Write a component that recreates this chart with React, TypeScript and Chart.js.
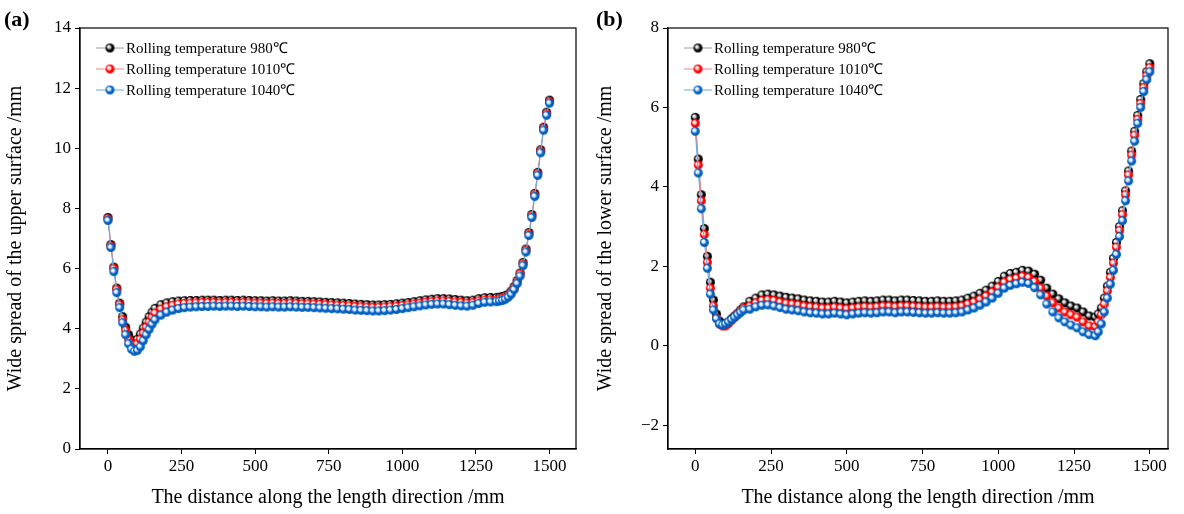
import React, { useEffect, useRef } from "react";
import { Chart, registerables } from "chart.js";
Chart.register(...registerables);

const xLeft = [0, 10, 20, 30, 40, 50, 60, 70, 80, 90, 100, 110, 120, 130, 140, 150, 160];
const xMid = [180, 200, 220, 240, 260, 280, 300, 320, 340, 360, 380, 400, 420, 440, 460, 480, 500, 520, 540, 560, 580, 600, 620, 640, 660, 680, 700, 720, 740, 760, 780, 800, 820, 840, 860, 880, 900, 920, 940, 960, 980, 1000, 1020, 1040, 1060, 1080, 1100, 1120, 1140, 1160, 1180, 1200, 1220, 1240, 1260, 1280, 1300, 1320];
const xRight = [1330, 1340, 1350, 1360, 1370, 1380, 1390, 1400, 1410, 1420, 1430, 1440, 1450, 1460, 1470, 1480, 1490, 1500];
const distance = [...xLeft, ...xMid, ...xRight];

const seriesNames = ["Rolling temperature 980\u2103", "Rolling temperature 1010\u2103", "Rolling temperature 1040\u2103"];

const upper980 = [7.7,6.8,6.05,5.35,4.85,4.4,4.05,3.8,3.62,3.58,3.65,3.82,4.02,4.22,4.4,4.55,4.68,
4.8,4.86,4.9,4.92,4.93,4.94,4.94,4.95,4.95,4.95,4.94,4.95,4.95,4.94,4.95,4.94,4.93,4.93,4.92,4.93,4.92,4.92,4.93,4.92,4.91,4.91,4.9,4.89,4.88,4.87,4.86,4.85,4.84,4.82,4.81,4.8,4.79,4.79,4.8,4.81,4.83,4.85,4.87,4.9,4.93,4.96,4.98,5.0,5.0,4.99,4.97,4.95,4.93,4.95,5.0,5.03,5.04,5.04,
5.05,5.07,5.1,5.15,5.25,5.4,5.6,5.85,6.2,6.65,7.2,7.8,8.5,9.2,9.95,10.7,11.2,11.6];
const upper1010 = [7.65,6.75,6.0,5.3,4.8,4.3,3.95,3.65,3.5,3.45,3.5,3.65,3.85,4.05,4.22,4.38,4.52,
4.65,4.73,4.78,4.82,4.84,4.85,4.86,4.87,4.87,4.87,4.86,4.87,4.87,4.86,4.87,4.86,4.85,4.85,4.84,4.85,4.84,4.84,4.85,4.84,4.83,4.83,4.82,4.81,4.8,4.79,4.78,4.77,4.76,4.74,4.73,4.72,4.71,4.71,4.72,4.73,4.75,4.77,4.79,4.82,4.85,4.88,4.9,4.92,4.92,4.91,4.89,4.87,4.85,4.87,4.92,4.95,4.96,4.96,
4.98,5.0,5.03,5.09,5.2,5.35,5.55,5.82,6.15,6.6,7.15,7.75,8.45,9.15,9.9,10.65,11.15,11.55];
const upper1040 = [7.6,6.7,5.9,5.2,4.7,4.2,3.8,3.5,3.32,3.25,3.28,3.4,3.6,3.8,3.98,4.15,4.3,
4.45,4.55,4.62,4.67,4.7,4.72,4.73,4.74,4.74,4.75,4.74,4.75,4.75,4.74,4.75,4.74,4.73,4.73,4.72,4.73,4.72,4.72,4.73,4.72,4.71,4.71,4.7,4.69,4.68,4.67,4.66,4.65,4.64,4.62,4.61,4.6,4.59,4.59,4.6,4.62,4.64,4.67,4.7,4.73,4.76,4.79,4.81,4.82,4.82,4.8,4.78,4.76,4.75,4.78,4.84,4.88,4.89,4.9,
4.92,4.94,4.98,5.05,5.15,5.3,5.5,5.75,6.1,6.55,7.1,7.7,8.4,9.1,9.85,10.6,11.1,11.5];

const lower980 = [5.75,4.7,3.8,2.95,2.25,1.6,1.15,0.8,0.62,0.55,0.55,0.6,0.68,0.75,0.82,0.9,0.98,
1.12,1.2,1.28,1.3,1.28,1.25,1.22,1.2,1.18,1.15,1.13,1.12,1.1,1.1,1.12,1.1,1.08,1.1,1.12,1.13,1.12,1.13,1.15,1.15,1.13,1.15,1.15,1.14,1.13,1.12,1.12,1.13,1.12,1.12,1.13,1.15,1.2,1.25,1.32,1.4,1.5,1.62,1.75,1.82,1.85,1.9,1.88,1.8,1.65,1.45,1.3,1.18,1.08,1.0,0.95,0.85,0.75,0.72,
0.8,0.95,1.2,1.5,1.85,2.2,2.6,3.0,3.4,3.9,4.4,4.9,5.4,5.8,6.2,6.6,6.9,7.1];
const lower1010 = [5.6,4.55,3.65,2.8,2.1,1.45,1.0,0.7,0.55,0.5,0.5,0.56,0.64,0.72,0.8,0.87,0.94,
1.0,1.08,1.14,1.16,1.14,1.1,1.07,1.05,1.03,1.0,0.98,0.97,0.95,0.95,0.97,0.95,0.93,0.95,0.97,0.98,0.97,0.98,1.0,1.0,0.98,1.0,1.0,0.99,0.98,0.97,0.97,0.98,0.97,0.97,0.98,1.0,1.05,1.1,1.17,1.25,1.35,1.47,1.6,1.67,1.7,1.75,1.72,1.62,1.45,1.25,1.08,0.95,0.85,0.78,0.72,0.6,0.5,0.48,
0.6,0.78,1.05,1.38,1.72,2.08,2.48,2.9,3.3,3.8,4.3,4.8,5.3,5.7,6.1,6.5,6.8,7.0];
const lower1040 = [5.4,4.35,3.45,2.6,1.95,1.3,0.9,0.68,0.55,0.52,0.55,0.6,0.66,0.72,0.78,0.84,0.9,
0.92,0.98,1.02,1.03,1.0,0.96,0.92,0.9,0.88,0.85,0.83,0.82,0.8,0.8,0.82,0.8,0.78,0.8,0.82,0.83,0.82,0.83,0.85,0.85,0.83,0.85,0.85,0.84,0.83,0.82,0.82,0.83,0.82,0.82,0.83,0.85,0.9,0.95,1.02,1.1,1.2,1.32,1.45,1.52,1.56,1.6,1.57,1.46,1.28,1.05,0.85,0.7,0.6,0.52,0.45,0.35,0.28,0.25,
0.35,0.55,0.85,1.2,1.55,1.9,2.3,2.75,3.15,3.65,4.15,4.65,5.15,5.6,6.0,6.4,6.7,6.9];

const xTicks = [0, 250, 500, 750, 1000, 1250, 1500];
const upperTicks = [0, 2, 4, 6, 8, 10, 12, 14];
const lowerTicks = [-2, 0, 2, 4, 6, 8];

const FONT = "'Liberation Serif', 'Times New Roman', serif";
const palette = [
  { dot: ["#bbbbbb", "#000000"], line: "#9a9a9a" },
  { dot: ["#ffd0d0", "#ff0000"], line: "#ff8080" },
  { dot: ["#d0e4ff", "#0060c0"], line: "#6aaae0" },
];

function sphere(c: string[], r: number) {
  const cv = document.createElement("canvas");
  const s = r * 2 + 2;
  cv.width = s; cv.height = s;
  const g = cv.getContext("2d")!;
  const grad = g.createRadialGradient(s / 2 - r * 0.35, s / 2 - r * 0.35, 0.5, s / 2, s / 2, r);
  grad.addColorStop(0, "#ffffff");
  grad.addColorStop(0.3, c[0]);
  grad.addColorStop(0.6, c[1]);
  grad.addColorStop(1, c[1]);
  g.fillStyle = grad;
  g.beginPath(); g.arc(s / 2, s / 2, r, 0, Math.PI * 2); g.fill();
  return cv;
}

function makeChart(canvas: HTMLCanvasElement, series: number[][], yTicks: number[], ymin: number, ymax: number, xmin: number, xmax: number, ytitle: string, axisLeft: number, padRight: number) {
  const imgs = palette.map((p) => sphere(p.dot, 4.5));
  const frame = {
    id: "frame",
    afterDatasetsDraw(chart: any) {
      const { ctx, chartArea: a } = chart;
      ctx.save();
      ctx.strokeStyle = "#000"; ctx.lineWidth = 1.2;
      ctx.strokeRect(a.left, a.top, a.right - a.left, a.bottom - a.top);
      ctx.font = `15px ${FONT}`; ctx.textBaseline = "middle"; ctx.fillStyle = "#000";
      seriesNames.forEach((n, i) => {
        const y = a.top + 20 + i * 21;
        const x = a.left + 16;
        ctx.strokeStyle = palette[i].line; ctx.lineWidth = 1;
        ctx.beginPath(); ctx.moveTo(x, y); ctx.lineTo(x + 28, y); ctx.stroke();
        ctx.drawImage(imgs[i], x + 14 - imgs[i].width / 2, y - imgs[i].height / 2);
        ctx.fillText(n, x + 30, y + 1);
      });
      ctx.restore();
    },
  };
  return new Chart(canvas, {
    type: "line",
    data: {
      datasets: series.map((s, i) => ({
        data: distance.map((x, j) => ({ x, y: s[j] })),
        borderColor: palette[i].line,
        borderWidth: 1,
        pointStyle: imgs[i] as any,
        pointRadius: 4.5,
        pointHoverRadius: 4.5,
        tension: 0,
        order: 3 - i,
      })),
    },
    options: {
      animation: false,
      responsive: false,
      events: [],
      layout: { padding: { top: 28, right: padRight, left: 0, bottom: 0 } },
      plugins: { legend: { display: false }, tooltip: { enabled: false } },
      scales: {
        x: {
          type: "linear", min: xmin, max: xmax,
          afterBuildTicks: (sc: any) => { sc.ticks = xTicks.map((v) => ({ value: v })); },
          afterFit: (sc: any) => { sc.height = 65; },
          grid: { drawOnChartArea: false, tickLength: 5, color: "#000" },
          border: { color: "#000", width: 1.2 },
          ticks: { color: "#000", font: { family: FONT, size: 17 }, padding: 2, callback: (v: any) => String(v) },
          title: { display: true, text: "The distance along the length direction /mm", color: "#000", font: { family: FONT, size: 20 }, padding: { top: 3 } },
        },
        y: {
          min: ymin, max: ymax,
          afterBuildTicks: (sc: any) => { sc.ticks = yTicks.map((v) => ({ value: v })); },
          afterFit: (sc: any) => { sc.width = axisLeft; },
          grid: { drawOnChartArea: false, tickLength: 5, color: "#000" },
          border: { color: "#000", width: 1.2 },
          ticks: { color: "#000", font: { family: FONT, size: 17 }, padding: 4, callback: (v: any) => (v < 0 ? "\u2212" + Math.abs(v) : String(v)) },
          title: { display: true, text: ytitle, color: "#000", font: { family: FONT, size: 20 }, padding: { bottom: 1 } },
        },
      },
    },
    plugins: [frame],
  });
}

export default function App() {
  const a = useRef<HTMLCanvasElement>(null);
  const b = useRef<HTMLCanvasElement>(null);
  useEffect(() => {
    const c1 = makeChart(a.current!, [upper980, upper1010, upper1040], upperTicks, 0, 14, -95, 1590, "Wide spread of the upper surface /mm", 80, 14);
    const c2 = makeChart(b.current!, [lower980, lower1010, lower1040], lowerTicks, -2.6, 8, -90, 1560, "Wide spread of the lower surface /mm", 78, 16);
    return () => { c1.destroy(); c2.destroy(); };
  }, []);
  const lab: React.CSSProperties = { position: "absolute", top: 6, fontFamily: FONT, fontWeight: "bold", fontSize: 22, color: "#000" };
  return (
    <div style={{ position: "fixed", left: 0, top: 0, width: 1184, height: 514, background: "#fff" }}>
      <canvas ref={a} width={590} height={514} style={{ position: "absolute", left: 0, top: 0 }} />
      <canvas ref={b} width={594} height={514} style={{ position: "absolute", left: 590, top: 0 }} />
      <div style={{ ...lab, left: 4 }}>(a)</div>
      <div style={{ ...lab, left: 596 }}>(b)</div>
    </div>
  );
}
